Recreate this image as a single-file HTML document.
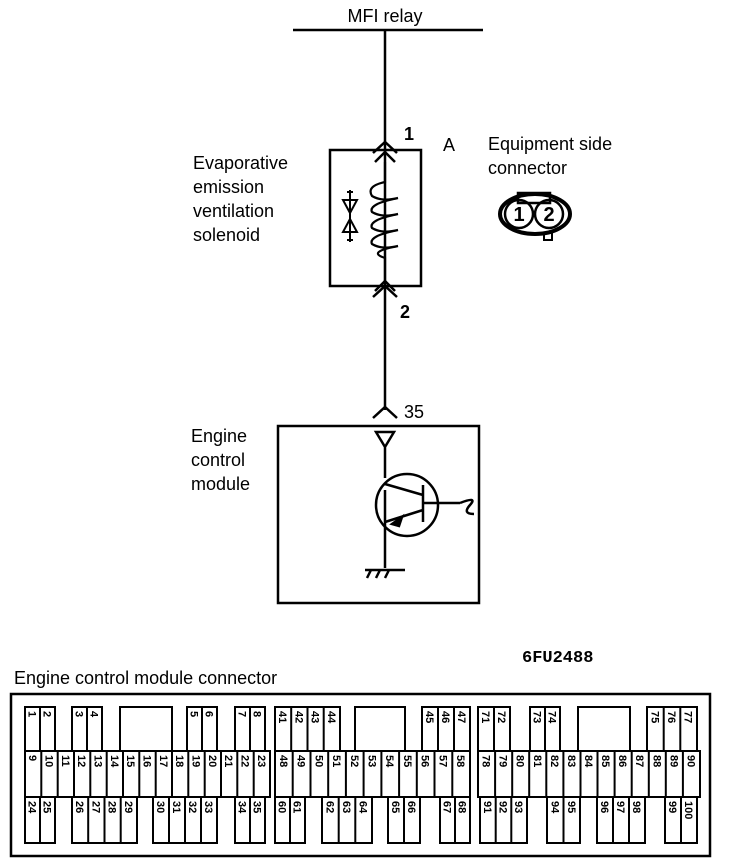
<!DOCTYPE html>
<html><head><meta charset="utf-8"><style>
html,body{margin:0;padding:0;background:#fff;}
svg{display:block;font-family:"Liberation Sans",Arial,sans-serif;}
</style></head><body>
<svg width="736" height="862" viewBox="0 0 736 862" xmlns="http://www.w3.org/2000/svg">
<g stroke="#000" fill="none" stroke-width="2.5">
<line x1="293" y1="30" x2="483" y2="30"/>
<line x1="385" y1="30" x2="385" y2="410"/>
<rect x="330" y="150" width="91" height="136"/>
<path d="M373 153 L385 142 L397 153 M373 297 L385 286 L397 297 M375 162 L385 152 L395 162 M375 291 L385 281 L395 291"/>
<path d="M385 162 V182 Q366 186 372 196 Q382 202 398 198 Q368 204 372 212 Q382 218 398 214 Q368 220 372 228 Q382 234 398 230 Q368 236 372 244 Q382 250 398 246 Q366 252 385 258 V282" stroke-width="2.2"/>
<path d="M343 200 L357 200 L350 213 Z M343 232 L357 232 L350 219 Z M350 190 V242 M347 192 h6 M347 240 h6" stroke-width="2"/>
<path d="M373 418 L385 407 L397 418"/>
<rect x="278" y="426" width="201" height="177"/>
<path d="M376 432 L394 432 L385 447 Z M385 447 V478 M385 490 V568"/>
<circle cx="407" cy="505" r="31"/>
<path d="M385 484 L423 495 M423 485 V522 M385 522 L423 510 M423 503 H460 M460 503 Q478 496 470 505 Q462 514 474 514"/>
<path d="M392 524 l10 -7 l-3 9 z" fill="#000"/>
<path d="M365 570 H405 M371 570 l-4 8 M380 570 l-4 8 M389 570 l-4 8"/>
<rect x="518" y="193" width="32" height="10" stroke-width="2.5"/>
<ellipse cx="535" cy="214" rx="35" ry="20" stroke-width="4"/>
<circle cx="519" cy="214" r="14" stroke-width="2.5"/>
<circle cx="549" cy="214" r="14" stroke-width="2.5"/>
<rect x="544" y="233" width="8" height="7" stroke-width="2"/>
</g>
<g font-size="18" fill="#000">
<text x="385" y="22" text-anchor="middle">MFI relay</text>
<text x="404" y="140" font-weight="bold">1</text>
<text x="400" y="318" font-weight="bold">2</text>
<text x="443" y="151">A</text>
<text x="488" y="150">Equipment side</text>
<text x="488" y="174">connector</text>
<text x="193" y="169">Evaporative</text>
<text x="193" y="193">emission</text>
<text x="193" y="217">ventilation</text>
<text x="193" y="241">solenoid</text>
<text x="404" y="418">35</text>
<text x="191" y="442">Engine</text>
<text x="191" y="466">control</text>
<text x="191" y="490">module</text>
<text x="519" y="221" font-size="20" font-weight="bold" text-anchor="middle">1</text>
<text x="549" y="221" font-size="20" font-weight="bold" text-anchor="middle">2</text>
<text x="522" y="662" font-family="Liberation Mono,monospace" font-weight="bold" font-size="17">6FU2488</text>
<text x="14" y="684">Engine control module connector</text>
</g>
<rect x="11" y="694" width="699" height="162" stroke="#000" fill="none" stroke-width="2.5"/>
<g stroke="#000" fill="none" stroke-width="2">
<rect x="25" y="707" width="30" height="44"/><rect x="72" y="707" width="30" height="44"/><rect x="120" y="707" width="52" height="44"/>
<rect x="187" y="707" width="30" height="44"/><rect x="235" y="707" width="30" height="44"/><rect x="275" y="707" width="65" height="44"/>
<rect x="355" y="707" width="50" height="44"/><rect x="422" y="707" width="48" height="44"/><rect x="478" y="707" width="32" height="44"/>
<rect x="530" y="707" width="30" height="44"/><rect x="578" y="707" width="52" height="44"/><rect x="647" y="707" width="50" height="44"/>
<path d="M40 707V751 M87 707V751 M202 707V751 M250 707V751 M291.2 707V751 M307.5 707V751 M323.7 707V751 M438 707V751 M454 707V751 M494 707V751 M545 707V751 M663.7 707V751 M680.3 707V751"/>
<rect x="25" y="751" width="245" height="46"/><rect x="275" y="751" width="195" height="46"/><rect x="478" y="751" width="222" height="46"/>
<path d="M41.3 751V797 M57.7 751V797 M74 751V797 M90.3 751V797 M106.7 751V797 M123 751V797 M139.3 751V797 M155.7 751V797 M172 751V797 M188.3 751V797 M204.7 751V797 M221 751V797 M237.3 751V797 M253.7 751V797 M292.7 751V797 M310.5 751V797 M328.2 751V797 M345.9 751V797 M363.6 751V797 M381.4 751V797 M399.1 751V797 M416.8 751V797 M434.5 751V797 M452.3 751V797 M495.1 751V797 M512.2 751V797 M529.2 751V797 M546.3 751V797 M563.4 751V797 M580.5 751V797 M597.5 751V797 M614.6 751V797 M631.7 751V797 M648.8 751V797 M665.8 751V797 M682.9 751V797"/>
<rect x="25" y="797" width="30" height="46"/><rect x="72" y="797" width="65" height="46"/><rect x="153" y="797" width="64" height="46"/>
<rect x="235" y="797" width="30" height="46"/><rect x="275" y="797" width="30" height="46"/><rect x="322" y="797" width="50" height="46"/>
<rect x="388" y="797" width="32" height="46"/><rect x="440" y="797" width="30" height="46"/><rect x="480" y="797" width="47" height="46"/>
<rect x="547" y="797" width="33" height="46"/><rect x="597" y="797" width="48" height="46"/><rect x="665" y="797" width="32" height="46"/>
<path d="M40 797V843 M88.2 797V843 M104.5 797V843 M120.7 797V843 M169 797V843 M185 797V843 M201 797V843 M250 797V843 M290 797V843 M338.7 797V843 M355.3 797V843 M404 797V843 M455 797V843 M495.7 797V843 M511.3 797V843 M563.5 797V843 M613 797V843 M629 797V843 M681 797V843"/>
</g>
<g font-size="11" font-weight="bold" fill="#000">
<text transform="translate(28.5,711) rotate(90)">1</text><text transform="translate(43.5,711) rotate(90)">2</text>
<text transform="translate(75.5,711) rotate(90)">3</text><text transform="translate(90.5,711) rotate(90)">4</text>
<text transform="translate(190.5,711) rotate(90)">5</text><text transform="translate(205.5,711) rotate(90)">6</text>
<text transform="translate(238.5,711) rotate(90)">7</text><text transform="translate(253.5,711) rotate(90)">8</text>
<text transform="translate(279.1,711) rotate(90)">41</text><text transform="translate(295.4,711) rotate(90)">42</text><text transform="translate(311.6,711) rotate(90)">43</text><text transform="translate(327.9,711) rotate(90)">44</text>
<text transform="translate(426,711) rotate(90)">45</text><text transform="translate(442,711) rotate(90)">46</text><text transform="translate(458,711) rotate(90)">47</text>
<text transform="translate(482,711) rotate(90)">71</text><text transform="translate(498,711) rotate(90)">72</text>
<text transform="translate(533.5,711) rotate(90)">73</text><text transform="translate(548.5,711) rotate(90)">74</text>
<text transform="translate(651.3,711) rotate(90)">75</text><text transform="translate(668,711) rotate(90)">76</text><text transform="translate(684.7,711) rotate(90)">77</text>

<text transform="translate(29.2,755) rotate(90)">9</text><text transform="translate(45.5,755) rotate(90)">10</text><text transform="translate(61.8,755) rotate(90)">11</text><text transform="translate(78.2,755) rotate(90)">12</text><text transform="translate(94.5,755) rotate(90)">13</text><text transform="translate(110.8,755) rotate(90)">14</text><text transform="translate(127.2,755) rotate(90)">15</text><text transform="translate(143.5,755) rotate(90)">16</text><text transform="translate(159.8,755) rotate(90)">17</text><text transform="translate(176.2,755) rotate(90)">18</text><text transform="translate(192.5,755) rotate(90)">19</text><text transform="translate(208.8,755) rotate(90)">20</text><text transform="translate(225.2,755) rotate(90)">21</text><text transform="translate(241.5,755) rotate(90)">22</text><text transform="translate(257.8,755) rotate(90)">23</text>
<text transform="translate(279.9,755) rotate(90)">48</text><text transform="translate(297.6,755) rotate(90)">49</text><text transform="translate(315.3,755) rotate(90)">50</text><text transform="translate(333,755) rotate(90)">51</text><text transform="translate(350.8,755) rotate(90)">52</text><text transform="translate(368.5,755) rotate(90)">53</text><text transform="translate(386.2,755) rotate(90)">54</text><text transform="translate(403.9,755) rotate(90)">55</text><text transform="translate(421.7,755) rotate(90)">56</text><text transform="translate(439.4,755) rotate(90)">57</text><text transform="translate(457.1,755) rotate(90)">58</text>
<text transform="translate(482.5,755) rotate(90)">78</text><text transform="translate(499.6,755) rotate(90)">79</text><text transform="translate(516.7,755) rotate(90)">80</text><text transform="translate(533.8,755) rotate(90)">81</text><text transform="translate(550.8,755) rotate(90)">82</text><text transform="translate(567.9,755) rotate(90)">83</text><text transform="translate(585,755) rotate(90)">84</text><text transform="translate(602.1,755) rotate(90)">85</text><text transform="translate(619.1,755) rotate(90)">86</text><text transform="translate(636.2,755) rotate(90)">87</text><text transform="translate(653.3,755) rotate(90)">88</text><text transform="translate(670.4,755) rotate(90)">89</text><text transform="translate(687.4,755) rotate(90)">90</text>

<text transform="translate(28.5,801) rotate(90)">24</text><text transform="translate(43.5,801) rotate(90)">25</text>
<text transform="translate(76.1,801) rotate(90)">26</text><text transform="translate(92.4,801) rotate(90)">27</text><text transform="translate(108.6,801) rotate(90)">28</text><text transform="translate(124.9,801) rotate(90)">29</text>
<text transform="translate(157,801) rotate(90)">30</text><text transform="translate(173,801) rotate(90)">31</text><text transform="translate(189,801) rotate(90)">32</text><text transform="translate(205,801) rotate(90)">33</text>
<text transform="translate(238.5,801) rotate(90)">34</text><text transform="translate(253.5,801) rotate(90)">35</text>
<text transform="translate(278.5,801) rotate(90)">60</text><text transform="translate(293.5,801) rotate(90)">61</text>
<text transform="translate(326.3,801) rotate(90)">62</text><text transform="translate(343,801) rotate(90)">63</text><text transform="translate(359.7,801) rotate(90)">64</text>
<text transform="translate(392,801) rotate(90)">65</text><text transform="translate(408,801) rotate(90)">66</text>
<text transform="translate(443.5,801) rotate(90)">67</text><text transform="translate(458.5,801) rotate(90)">68</text>
<text transform="translate(483.8,801) rotate(90)">91</text><text transform="translate(499.5,801) rotate(90)">92</text><text transform="translate(515.2,801) rotate(90)">93</text>
<text transform="translate(551.3,801) rotate(90)">94</text><text transform="translate(567.8,801) rotate(90)">95</text>
<text transform="translate(601,801) rotate(90)">96</text><text transform="translate(617,801) rotate(90)">97</text><text transform="translate(633,801) rotate(90)">98</text>
<text transform="translate(669,801) rotate(90)">99</text><text transform="translate(685,801) rotate(90)">100</text>
</g>
</svg>
</body></html>
